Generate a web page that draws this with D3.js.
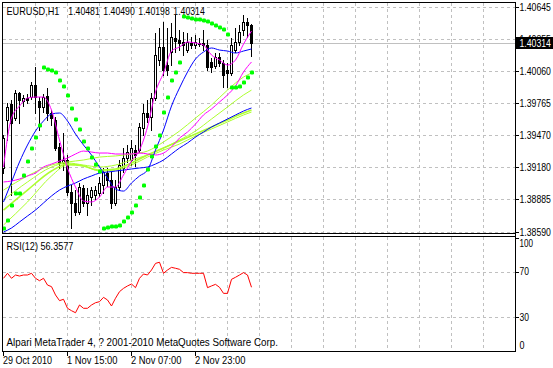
<!DOCTYPE html>
<html><head><meta charset="utf-8">
<script src="https://cdn.jsdelivr.net/npm/d3@7"></script>
<style>body{margin:0;background:#fff}svg{display:block}text{font-family:"Liberation Sans",Arial,sans-serif;font-size:10.5px;fill:#000}</style>
</head><body><svg id="c" width="553" height="368"></svg>
<script>
const symbol = "EURUSD,H1";
const lastOHLC = [1.40481, 1.40490, 1.40198, 1.40314];
const opens = [1.39172,1.39611,1.39757,1.39629,1.39858,1.39785,1.39812,1.39821,1.39931,1.39785,
1.39730,1.39831,1.39675,1.39611,1.39364,1.39218,1.39245,1.38952,1.38852,1.38769,
1.38989,1.38852,1.38906,1.38925,1.38943,1.39016,1.39126,1.39062,1.38852,1.38998,
1.39172,1.39263,1.39245,1.39336,1.39336,1.39538,1.39675,1.39638,1.39812,1.40160,
1.40279,1.40114,1.40233,1.40361,1.40343,1.40325,1.40251,1.40316,1.40297,1.40316,
1.40316,1.40297,1.40142,1.40105,1.40187,1.40133,1.40068,1.40041,1.40251,1.40325,
1.40434,1.40508,1.40481];
const highs = [1.39474,1.39767,1.39794,1.39885,1.39867,1.39840,1.39849,1.39959,1.40096,1.39821,
1.39849,1.39904,1.39702,1.39638,1.39401,1.39492,1.39291,1.39016,1.38970,1.39035,
1.39016,1.38989,1.38998,1.39007,1.39089,1.39172,1.39172,1.39135,1.39062,1.39245,
1.39355,1.39382,1.39428,1.39382,1.39584,1.39757,1.39794,1.39858,1.40407,1.40453,
1.40508,1.40453,1.40499,1.40572,1.40434,1.40416,1.40407,1.40370,1.40389,1.40361,
1.40434,1.40343,1.40178,1.40224,1.40224,1.40160,1.40133,1.40361,1.40453,1.40480,
1.40572,1.40544,1.40490];
const lows = [1.39126,1.39428,1.38925,1.39611,1.39584,1.39739,1.39767,1.39803,1.39675,1.39519,
1.39684,1.39611,1.39565,1.39336,1.39172,1.39153,1.38925,1.38623,1.38742,1.38751,
1.38824,1.38742,1.38833,1.38888,1.38916,1.38943,1.39007,1.38806,1.38833,1.38970,
1.39135,1.39227,1.39199,1.39190,1.39318,1.39474,1.39593,1.39519,1.39794,1.40114,
1.40023,1.40023,1.40114,1.40233,1.40251,1.40206,1.40233,1.40270,1.40270,1.40288,
1.40251,1.40068,1.40050,1.40087,1.40105,1.39913,1.39913,1.40023,1.40233,1.40297,
1.40389,1.40370,1.40198];
const closes = [1.39446,1.39730,1.39584,1.39858,1.39794,1.39812,1.39794,1.39931,1.39821,1.39730,
1.39821,1.39675,1.39629,1.39355,1.39218,1.39245,1.38952,1.38852,1.38769,1.38998,
1.38852,1.38925,1.38970,1.38970,1.39035,1.39135,1.39062,1.38852,1.38998,1.39199,
1.39263,1.39318,1.39355,1.39291,1.39547,1.39675,1.39638,1.39812,1.40206,1.40279,
1.40068,1.40068,1.40370,1.40334,1.40316,1.40297,1.40325,1.40297,1.40325,1.40306,
1.40297,1.40096,1.40096,1.40187,1.40133,1.40023,1.40041,1.40297,1.40325,1.40416,
1.40508,1.40480,1.40314];

const maIdx = [0,2,4,6,8,10,12,14,16,18,20,22,24,26,28,30,32,34,36,38,40,42,44,46,48,50,52,54,56,58,60,62];
const maFast = [1.39181,1.39629,1.39739,1.39812,1.39821,1.39821,1.39702,1.39428,1.39172,1.38998,1.38870,1.38861,1.38906,1.38998,1.38998,1.39108,1.39236,1.39336,1.39547,1.39867,1.40041,1.40242,1.40279,1.40325,1.40316,1.40297,1.40206,1.40160,1.40114,1.40160,1.40306,1.40425];
const maMid = [1.38861,1.39044,1.39227,1.39382,1.39510,1.39602,1.39666,1.39675,1.39602,1.39483,1.39382,1.39291,1.39181,1.39080,1.38980,1.38961,1.39035,1.39099,1.39153,1.39336,1.39519,1.39739,1.39904,1.40050,1.40169,1.40233,1.40270,1.40251,1.40242,1.40224,1.40242,1.40261];
const maSlow = [1.39044,1.39053,1.39071,1.39099,1.39126,1.39181,1.39208,1.39236,1.39263,1.39300,1.39327,1.39318,1.39309,1.39309,1.39300,1.39300,1.39300,1.39309,1.39300,1.39291,1.39309,1.39364,1.39446,1.39501,1.39574,1.39657,1.39712,1.39776,1.39840,1.39922,1.40050,1.40142];
const maSlowest = [1.38586,1.38623,1.38678,1.38733,1.38787,1.38852,1.38916,1.38970,1.39007,1.39035,1.39071,1.39099,1.39126,1.39135,1.39144,1.39153,1.39163,1.39172,1.39181,1.39208,1.39245,1.39300,1.39355,1.39401,1.39455,1.39501,1.39547,1.39584,1.39620,1.39657,1.39693,1.39721];

const ribIdx = [0,6,12,16,20,24,28,32,36,40,44,48,52,56,60,62];
const rib1 = [1.38970,1.39099,1.39199,1.39227,1.39245,1.39272,1.39282,1.39300,1.39327,1.39410,1.39510,1.39629,1.39748,1.39885,1.40004,1.40041];
const rib2 = [1.38879,1.39044,1.39181,1.39218,1.39199,1.39181,1.39199,1.39245,1.39291,1.39355,1.39428,1.39510,1.39620,1.39730,1.39840,1.39885];
const rib3 = [1.38787,1.38970,1.39144,1.39208,1.39190,1.39153,1.39163,1.39218,1.39291,1.39355,1.39419,1.39483,1.39547,1.39611,1.39675,1.39702];
const rib4 = [1.38650,1.38861,1.39099,1.39199,1.39190,1.39144,1.39153,1.39199,1.39272,1.39336,1.39391,1.39465,1.39529,1.39593,1.39657,1.39684];

const sar = [1.38623,1.38696,1.38833,1.38943,1.38943,1.39108,1.39236,1.39355,1.39455,1.39565,
1.40096,1.40078,1.40068,1.40050,1.39977,1.39922,1.39840,1.39721,1.39620,1.39529,
1.39419,1.39355,1.39272,1.39208,1.39144,
1.38623,1.38632,1.38641,1.38641,1.38650,1.38687,1.38723,1.38769,1.38833,1.38906,
1.39016,1.39163,1.39282,1.39373,1.39474,1.39684,1.39821,1.39977,1.40050,1.40142,
1.40563,1.40553,1.40544,1.40535,1.40535,1.40526,1.40517,1.40499,1.40480,1.40462,1.40444,1.40398,
1.39913,1.39913,1.39922,1.39959,1.40004,1.40050];

const rsiPeriod = 12;
const rsi = [64.2,68.6,64.2,67.1,66.2,67.1,67.1,68.6,64.2,62.1,
64.2,58.3,56.9,49.6,44.6,45.8,37.9,35.8,34.0,40.8,
37.9,37.9,40.8,42.8,43.7,47.5,45.2,39.9,46.7,52.5,
55.4,57.5,59.2,56.0,64.2,68.0,67.1,71.5,77.3,78.3,
68.6,71.5,73.8,73.0,72.1,69.2,69.2,68.6,68.6,68.6,
68.6,56.0,57.5,58.9,56.3,51.0,51.0,63.3,65.1,67.1,
69.2,67.1,56.3577];

const priceTicks = [1.40645,1.40355,1.40060,1.39765,1.39470,1.39180,1.38885,1.38590];
const rsiTicks = [100,70,30,0];
const rsiGrid = [70,30];
const timeIdx = [0,16,32,48];
const timeLabels = ["29 Oct 2010","1 Nov 15:00","2 Nov 07:00","2 Nov 23:00"];
const copyright = "Alpari MetaTrader 4, ? 2001-2010 MetaQuotes Software Corp.";

const svg = d3.select("#c");
const x = d3.scaleLinear().domain([0,1]).range([3,7]);       // bar index -> pixel column
const y = d3.scaleLinear().domain([1.38590,1.40645]).range([231.6,7]);
const yr = d3.scaleLinear().domain([0,100]).range([351.5,237.5]);
const px = i => x(i) + 0.5;

// text placed with horizontal scale so its real box has the wanted width
function label(parent, str, tx, ty, w, fill){
  const t = parent.append("text").attr("x",0).attr("y",0).text(str);
  if (fill) t.style("fill", fill);
  const nat = t.node().getComputedTextLength();
  const k = w / nat;
  t.attr("transform", `translate(${tx},${ty}) scale(${k},1)`);
  return t;
}

const defs = svg.append("defs");
defs.append("clipPath").attr("id","cm").append("rect").attr("x",3).attr("y",3).attr("width",512).attr("height",230);
defs.append("clipPath").attr("id","cr").append("rect").attr("x",3).attr("y",237).attr("width",512).attr("height",114);

const grid = svg.append("g").attr("stroke","#c0c0c0").attr("stroke-dasharray","3,3").attr("shape-rendering","crispEdges");
d3.range(8, 121, 8).forEach(i=>{
  grid.append("line").attr("x1",px(i)).attr("x2",px(i)).attr("y1",3).attr("y2",233);
  grid.append("line").attr("x1",px(i)).attr("x2",px(i)).attr("y1",237).attr("y2",351);
});
priceTicks.forEach(p=>{
  const yy = Math.round(y(p))+0.5;
  grid.append("line").attr("x1",3).attr("x2",515).attr("y1",yy).attr("y2",yy);
});
rsiGrid.forEach(v=>{
  const yy = Math.round(yr(v))+0.5;
  grid.append("line").attr("x1",3).attr("x2",515).attr("y1",yy).attr("y2",yy);
});

const lastY = Math.round(y(lastOHLC[3]))+0.5;
svg.append("line").attr("x1",3).attr("x2",515).attr("y1",lastY).attr("y2",lastY)
  .attr("stroke","#c0c0c0").attr("shape-rendering","crispEdges");

const main = svg.append("g").attr("clip-path","url(#cm)");

const cg = main.append("g").attr("shape-rendering","crispEdges");
opens.forEach((o,i)=>{
  const c = closes[i];
  const cx = px(i);
  cg.append("line").attr("x1",cx).attr("x2",cx)
    .attr("y1",Math.round(y(highs[i]))).attr("y2",Math.round(y(lows[i]))+1)
    .attr("stroke","#000");
  const yt = Math.round(y(Math.max(o,c))), yb = Math.round(y(Math.min(o,c)));
  cg.append("rect").attr("x",x(i)-0.5).attr("y",yt+0.5).attr("width",2).attr("height",Math.max(0,yb-yt))
    .attr("fill", c>=o ? "#fff" : "#000").attr("stroke","#000");
});

const lineGen = idx => d3.line().x((d,k)=>px(idx[k])).y(d=>y(d)).curve(d3.curveMonotoneX);
const lg = main.append("g").attr("fill","none");
[[rib4,1],[rib3,1.6],[rib2,1],[rib1,1]].forEach(([arr,w])=>{
  lg.append("path").attr("d",lineGen(ribIdx)(arr)).attr("stroke","#adff2f").attr("stroke-width",w);
});
[[maSlowest,"#0000ff"],[maSlow,"#ff00ff"],[maMid,"#0000ff"],[maFast,"#ff00ff"]].forEach(([arr,col])=>{
  lg.append("path").attr("d",lineGen(maIdx)(arr)).attr("stroke",col).attr("stroke-width",1);
});

main.append("g").selectAll("rect").data(sar).join("rect")
  .attr("x",(d,i)=>x(i)-1).attr("y",d=>Math.round(y(d))-1.5)
  .attr("width",4).attr("height",4).attr("rx",1.2).attr("fill","#00ff00");

svg.append("g").attr("clip-path","url(#cr)").append("path")
  .attr("d", d3.line().x((d,i)=>px(i)).y(d=>yr(d))(rsi))
  .attr("fill","none").attr("stroke","#ff0000").attr("stroke-width",1);

const fr = svg.append("g").attr("stroke","#000").attr("shape-rendering","crispEdges");
fr.append("line").attr("x1",2).attr("x2",516).attr("y1",2.5).attr("y2",2.5);
fr.append("line").attr("x1",2.5).attr("x2",2.5).attr("y1",2).attr("y2",234);
fr.append("line").attr("x1",2).attr("x2",516).attr("y1",233.5).attr("y2",233.5);
fr.append("line").attr("x1",2).attr("x2",516).attr("y1",236.5).attr("y2",236.5);
fr.append("line").attr("x1",2.5).attr("x2",2.5).attr("y1",236).attr("y2",352);
fr.append("line").attr("x1",2).attr("x2",516).attr("y1",351.5).attr("y2",351.5);
fr.append("line").attr("x1",515.5).attr("x2",515.5).attr("y1",2).attr("y2",352);

const axisText = svg.append("g");
priceTicks.forEach(p=>{
  const yy = Math.round(y(p))+0.5;
  fr.append("line").attr("x1",516).attr("x2",519).attr("y1",yy).attr("y2",yy);
  if (Math.abs(y(p)-lastY) < 8) {
    // partly hidden behind the current-price box, as in MetaTrader
    axisText.append("g").attr("clip-path","url(#cl)");
  }
  label(axisText, p.toFixed(5), 519.5, yy+3.5, 31.5);
});
svg.append("rect").attr("x",516).attr("y",37).attr("width",37).attr("height",12).attr("fill","#000");
label(svg, lastOHLC[3].toFixed(5), 519.5, lastY+3.5, 31.5, "#fff");

const rsiLabY = {100:247, 70:275, 30:320.5, 0:348.5};
const rsiLabW = {100:13.5, 70:9.5, 30:9.5, 0:5};
rsiTicks.forEach(v=>{
  const yy = Math.round(yr(v))+0.5;
  if (v===70 || v===30) fr.append("line").attr("x1",516).attr("x2",519).attr("y1",yy).attr("y2",yy);
  label(svg, String(v), 519.5, rsiLabY[v], rsiLabW[v]);
});
fr.append("line").attr("x1",516).attr("x2",519).attr("y1",238.5).attr("y2",238.5);

timeIdx.forEach((i,k)=>{
  fr.append("line").attr("x1",px(i)).attr("x2",px(i)).attr("y1",352).attr("y2",356);
  label(svg, timeLabels[k], x(i), 363.5, k===0?49:50.5);
});

label(svg, symbol, 6.5, 14.5, 53);
lastOHLC.forEach((v,k)=> label(svg, v.toFixed(5), 68.3+35*k, 14.5, 31.5));
label(svg, `RSI(${rsiPeriod}) ${rsi[rsi.length-1].toFixed(4)}`, 6.5, 250, 67);
label(svg, copyright, 6.5, 345.5, 272);
</script>
</body></html>
